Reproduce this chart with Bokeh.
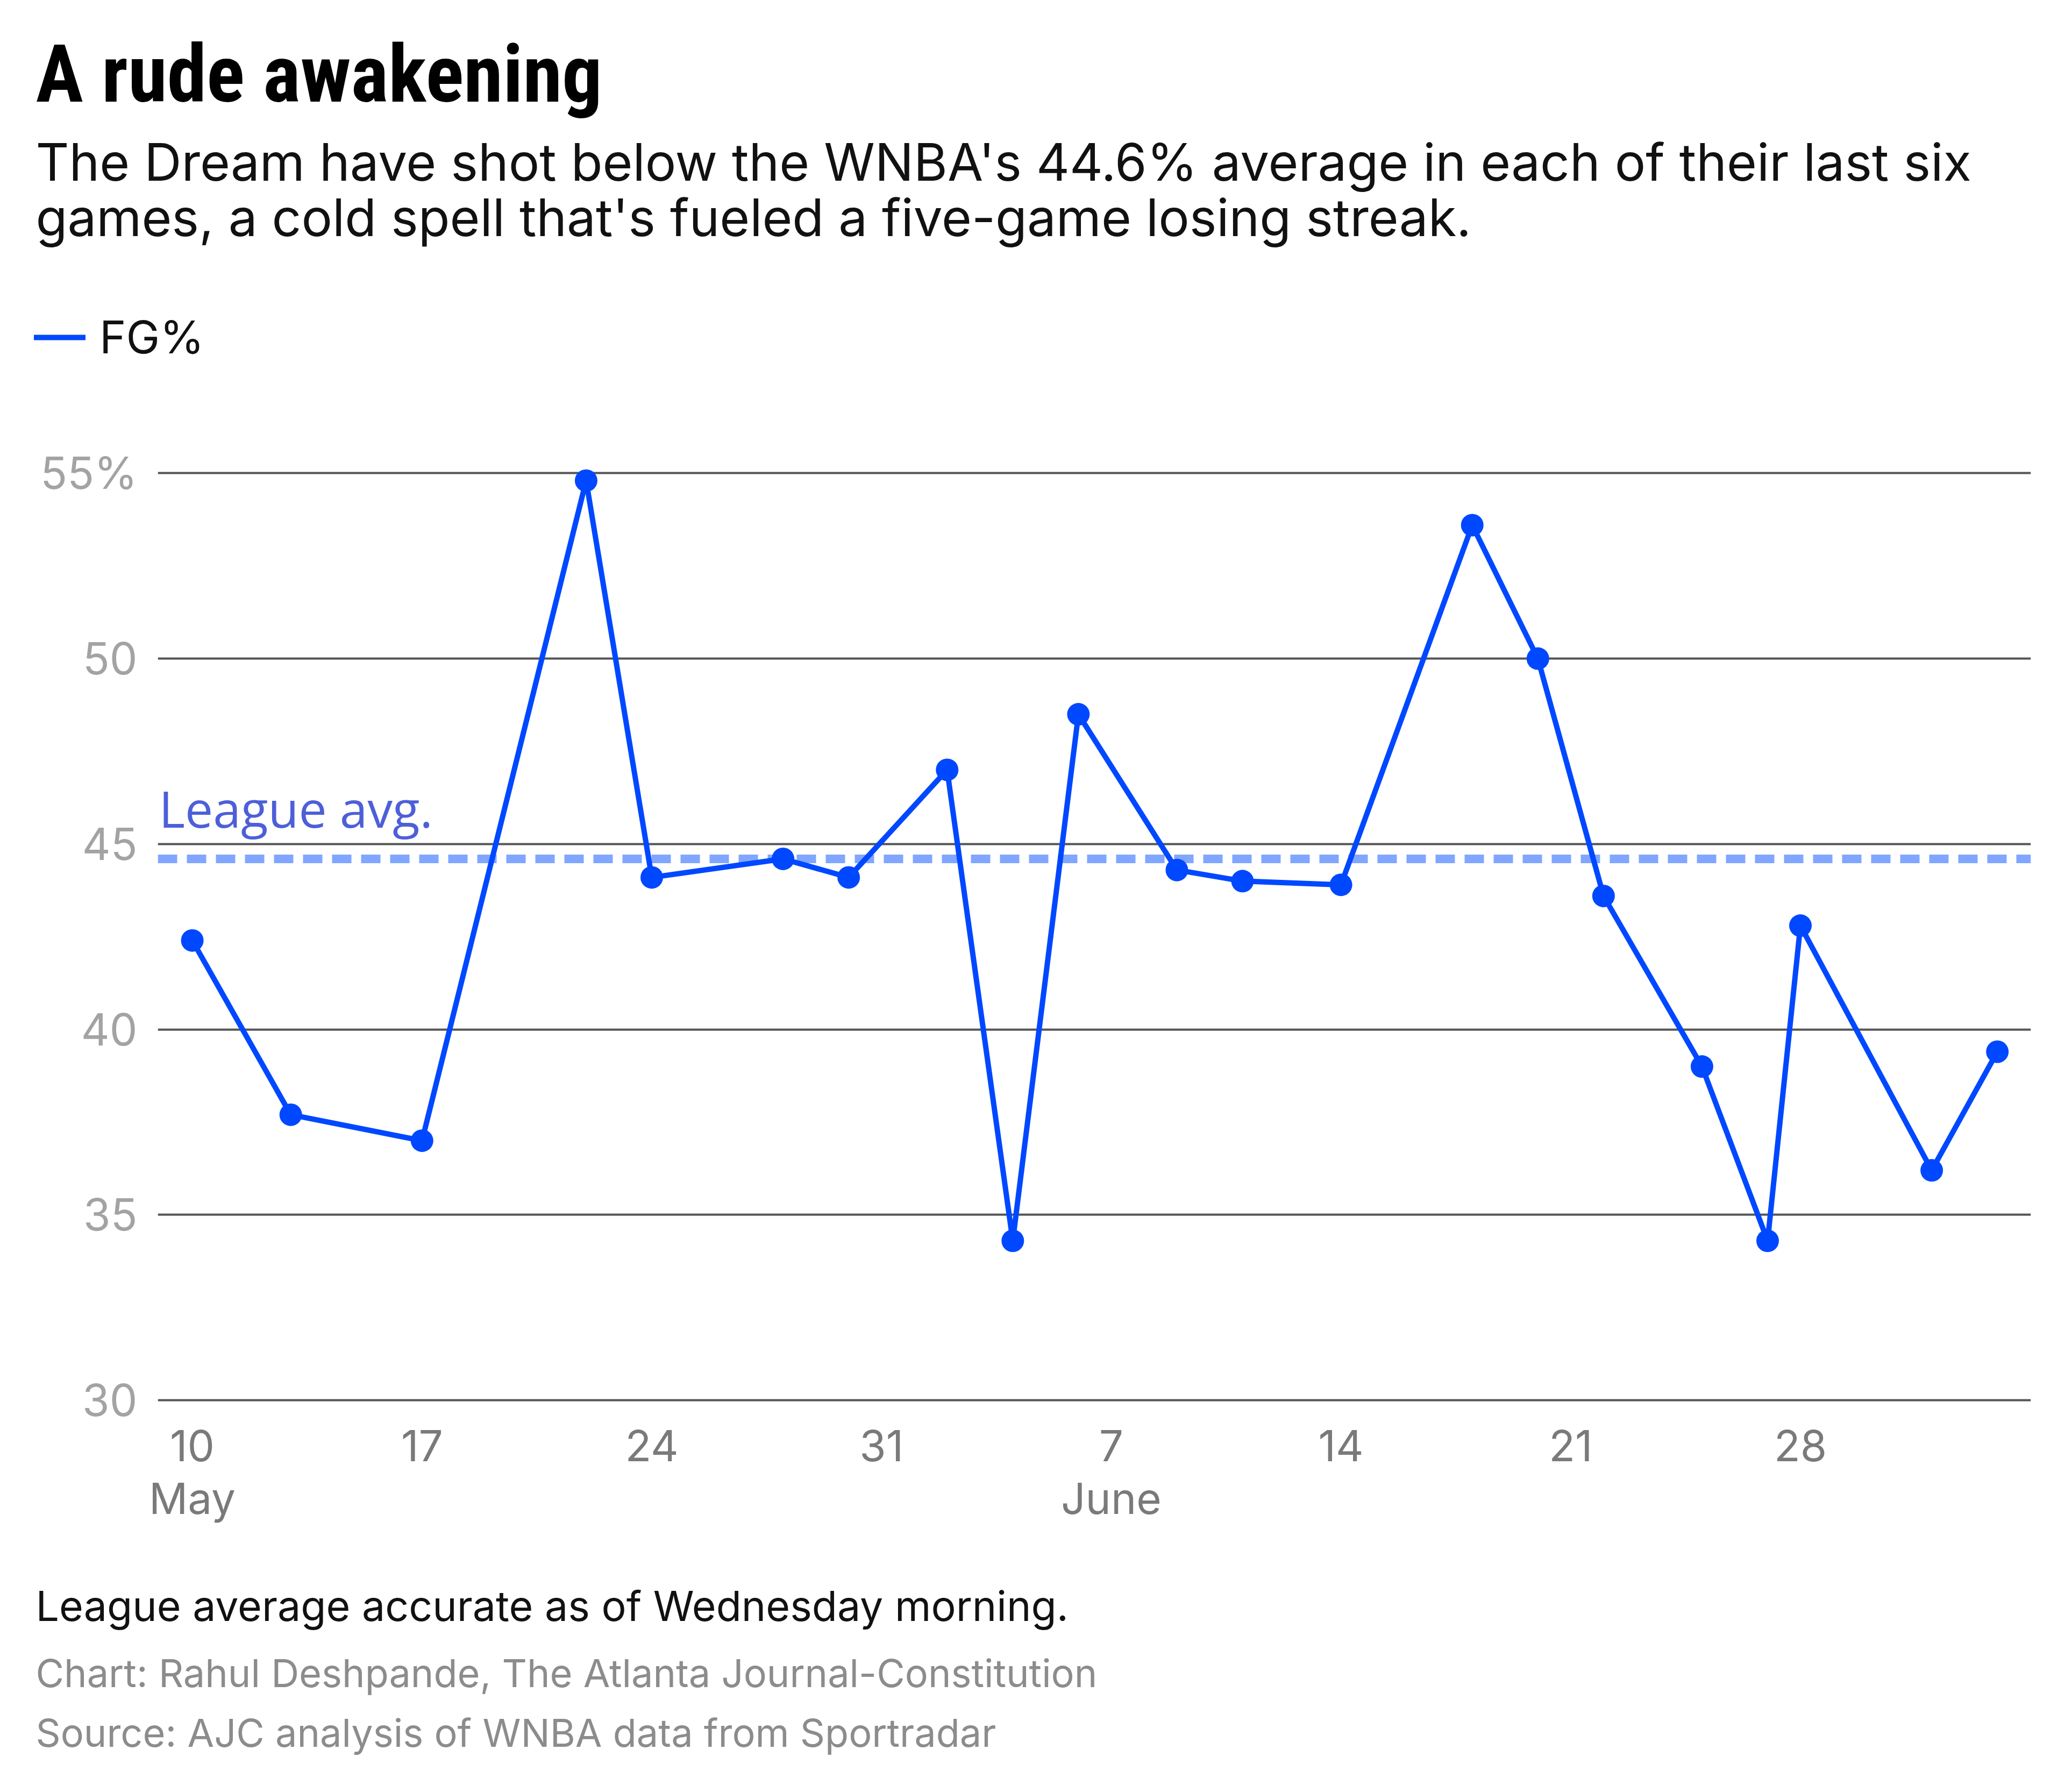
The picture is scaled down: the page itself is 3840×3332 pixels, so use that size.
import pandas as pd
from bokeh.plotting import figure
from bokeh.layouts import column
from bokeh.models import (Range1d, FixedTicker, CustomJSTickFormatter, Span, Label,
                          Legend, LegendItem, ColumnDataSource)
from bokeh.embed import file_html
from bokeh.resources import INLINE

# Atlanta Dream field-goal percentage by game
game_dates = ["2026-05-10", "2026-05-13", "2026-05-17", "2026-05-22", "2026-05-24",
              "2026-05-28", "2026-05-30", "2026-06-02", "2026-06-04", "2026-06-06",
              "2026-06-09", "2026-06-11", "2026-06-14", "2026-06-18", "2026-06-20",
              "2026-06-22", "2026-06-25", "2026-06-27", "2026-06-28", "2026-07-02",
              "2026-07-04"]
fg_pct = [42.4, 37.7, 37.0, 54.8, 44.1, 44.6, 44.1, 47.0, 34.3, 48.5,
          44.3, 44.0, 43.9, 53.6, 50.0, 43.6, 39.0, 34.3, 42.8, 36.2, 39.4]
league_avg = 44.6

tick_dates = ["2026-05-10", "2026-05-17", "2026-05-24", "2026-05-31",
              "2026-06-07", "2026-06-14", "2026-06-21", "2026-06-28"]
tick_labels = ["10\nMay", "17", "24", "31", "7\nJune", "14", "21", "28"]
y_ticks = [30, 35, 40, 45, 50, 55]
y_tick_labels = ["30", "35", "40", "45", "50", "55%"]

title_text = "A rude awakening"
subtitle_lines = ["The Dream have shot below the WNBA's 44.6% average in each of their last six",
                  "games, a cold spell that's fueled a five-game losing streak."]
legend_label = "FG%"
avg_label = "League avg."
note_text = "League average accurate as of Wednesday morning."
credit_text = "Chart: Rahul Deshpande, The Atlanta Journal-Constitution"
source_text = "Source: AJC analysis of WNBA data from Sportradar"

BLUE = "#0048ff"
AVG_BLUE = "#80a6ff"
MAIN_FONT = "Inter"
TITLE_FONT = "Roboto Condensed, DejaVu Sans Condensed, Inter"
W = 3840
HEADER_H, MAIN_H, FOOTER_H = 760, 2140, 432
BASELINE_SHIFT = 0.36   # em offset between requested and drawn alphabetic baseline

src = ColumnDataSource(dict(date=pd.to_datetime(game_dates), fg=fg_pct))


def unaligned(f):
    if "frame_align" in f.properties():
        f.frame_align = False
    return f


def text_panel(height):
    """A plain figure whose frame fills the panel; y runs top-down in pixels."""
    f = figure(width=W, height=height, x_range=Range1d(0, W), y_range=Range1d(height, 0),
               x_axis_location=None, y_axis_location=None, min_border=0,
               title_location=None, output_backend="svg", toolbar_location=None)
    f.grid.visible = False
    f.outline_line_color = None
    f.background_fill_color = "white"
    f.border_fill_color = "white"
    return unaligned(f)


def add_text(f, text, x, baseline, size, color="#111111", font=MAIN_FONT, style="normal"):
    f.add_layout(Label(x=x, y=baseline - BASELINE_SHIFT * size, text=text, text_font=font,
                       text_font_size=f"{size}px", text_font_style=style,
                       text_color=color, text_align="left", text_baseline="alphabetic"))


# ---- header: title, subtitle, legend
header = text_panel(HEADER_H)
add_text(header, title_text, 66, 191, 148, color="#000000", font=TITLE_FONT, style="bold")
add_text(header, subtitle_lines[0], 66, 335, 96)
add_text(header, subtitle_lines[1], 66, 438, 96)

# legend swatch for the FG% series (the series itself lies outside this panel's view)
swatch = header.line("date", "fg", source=src, line_color=BLUE, line_width=10,
                     line_cap="round")
header.add_layout(Legend(items=[LegendItem(label=legend_label, renderers=[swatch])],
                         location=(63, HEADER_H - 677), orientation="horizontal",
                         glyph_width=96, glyph_height=40, label_standoff=26,
                         padding=0, margin=0, spacing=0,
                         border_line_color=None, background_fill_alpha=0,
                         label_text_font=MAIN_FONT, label_text_font_size="84px",
                         label_text_color="#111111"))

# ---- main chart
FL, FR = 293, 64
FT = 838 - HEADER_H
FB = HEADER_H + MAIN_H - 2610

p = figure(width=W, height=MAIN_H, x_axis_type="datetime", output_backend="svg",
           toolbar_location=None, title_location=None,
           x_range=Range1d(pd.Timestamp("2026-05-08 22:48"), pd.Timestamp("2026-07-05 00:30")),
           y_range=Range1d(29.9, 55.6),
           min_border_left=FL, min_border_right=FR, min_border_top=FT, min_border_bottom=FB)
unaligned(p)
p.outline_line_color = None
p.background_fill_color = "white"
p.border_fill_color = "white"

p.xgrid.visible = False
p.ygrid.ticker = FixedTicker(ticks=y_ticks)
p.ygrid.grid_line_color = "#555555"
p.ygrid.grid_line_width = 4

p.yaxis.ticker = FixedTicker(ticks=y_ticks)
p.yaxis.major_label_overrides = dict(zip(y_ticks, y_tick_labels))
p.yaxis.axis_line_color = None
p.yaxis.major_tick_line_color = None
p.yaxis.minor_tick_line_color = None
p.yaxis.major_tick_out = 0
p.yaxis.major_label_standoff = 38
p.yaxis.major_label_text_font = MAIN_FONT
p.yaxis.major_label_text_font_size = "82px"
p.yaxis.major_label_text_color = "#a3a3a3"

tick_ms = [float(v) for v in (pd.to_datetime(tick_dates).asi8 // 10**6)]
p.xaxis.ticker = FixedTicker(ticks=tick_ms)
p.xaxis.formatter = CustomJSTickFormatter(
    args=dict(ticks_ms=tick_ms, labels=tick_labels),
    code="const i = ticks_ms.indexOf(tick); return i < 0 ? '' : labels[i];")
p.xaxis.axis_line_color = None
p.xaxis.major_tick_line_color = None
p.xaxis.minor_tick_line_color = None
p.xaxis.major_tick_out = 0
p.xaxis.major_label_standoff = 28
p.xaxis.major_label_text_font = MAIN_FONT
p.xaxis.major_label_text_font_size = "80px"
p.xaxis.major_label_text_line_height = 1.02
p.xaxis.major_label_text_color = "#7a7a7a"

p.add_layout(Span(location=league_avg, dimension="width", line_color=AVG_BLUE,
                  line_width=16, line_dash="36 18", level="underlay"))
# label sits just above the reference line, measured in frame pixels
p.add_layout(Label(x=2, y=(HEADER_H + MAIN_H - FB) - 1536 + BASELINE_SHIFT * 93,
                   x_units="screen", y_units="screen", text=avg_label,
                   text_font="Open Sans", text_font_size="93px", text_color="#4d5fd8",
                   text_align="left", text_baseline="alphabetic"))

p.line("date", "fg", source=src, line_color=BLUE, line_width=10,
       line_join="round", line_cap="round")
p.scatter("date", "fg", source=src, size=42, fill_color=BLUE, line_color=None)

# ---- footer: note and credits
footer = text_panel(FOOTER_H)
add_text(footer, note_text, 66, 113, 77)
add_text(footer, credit_text, 66, 236, 72, color="#8c8c8c")
add_text(footer, source_text, 66, 347, 72, color="#8c8c8c")

page = column(header, p, footer, spacing=0)
open("out.html", "w").write(file_html(page, INLINE))
